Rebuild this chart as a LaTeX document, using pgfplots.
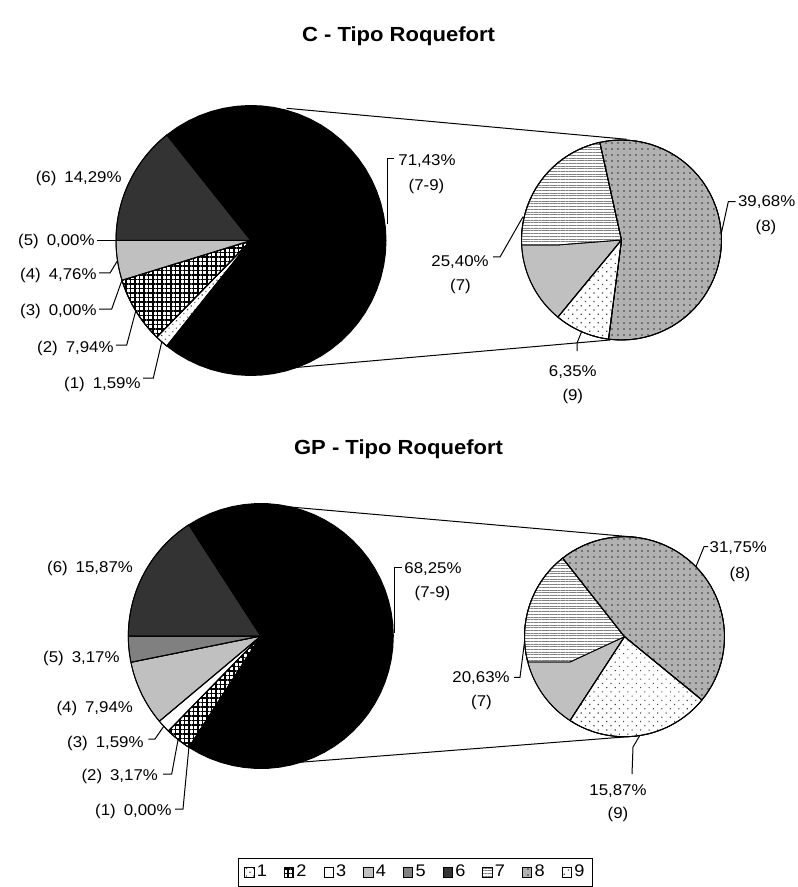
\documentclass[border=0pt]{standalone}
\usepackage{pgfplots}
\pgfplotsset{compat=1.18}
\usepackage{pgfplotstable}
\usetikzlibrary{patterns.meta}
\usepackage{fontspec}
\setmainfont{Liberation Sans}[FakeStretch=1.08]

\newcommand\lab{\fontsize{7.8}{9}\selectfont}
\newcommand\leg{\fontsize{8.4}{9.5}\selectfont}
\newcommand\ttl{\fontsize{10.2}{12}\selectfont\bfseries}

\definecolor{g4}{HTML}{C0C0C0}
\definecolor{g5}{HTML}{808080}
\definecolor{g6}{HTML}{333333}
\definecolor{dotc}{HTML}{404040}

% share of each cheese class (%), C sample
\pgfplotstableread{
id pct
1 1.59
2 7.94
3 0.00
4 4.76
5 0.00
6 14.29
}\mainC
\pgfplotstableread{
id pct
7 25.40
8 39.68
9 6.35
}\secC
% GP sample
\pgfplotstableread{
id pct
1 0.00
2 3.17
3 1.59
4 7.94
5 3.17
6 15.87
}\mainG
\pgfplotstableread{
id pct
7 20.63
8 31.75
9 15.87
}\secG

\tikzset{
  s1/.style={fill=white, postaction={pattern={Dots[distance=2.6pt, angle=45, radius=0.4pt]}, pattern color=dotc}},
  s2/.style={fill=white,
    postaction={pattern={Lines[angle=0, distance=2.25pt, line width=0.6pt]}, pattern color=black},
    postaction={pattern={Lines[angle=90, distance=2.25pt, line width=0.6pt]}, pattern color=black}},
  s3/.style={fill=white},
  s4/.style={fill=g4},
  s5/.style={fill=g5},
  s6/.style={fill=g6},
  s7/.style={fill=white, postaction={pattern={Lines[angle=0, distance=1.35pt, line width=0.45pt]}, pattern color=g5}},
  s8/.style={fill=g4!92!black, postaction={pattern={Dots[distance=3pt, radius=0.45pt]}, pattern color=black!80}},
  s9/.style={fill=white, postaction={pattern={Dots[distance=3pt, angle=45, radius=0.4pt]}, pattern color=dotc}},
  sO/.style={fill=black},
  lab/.style={font=\lab, inner sep=0pt},
  ttl/.style={font=\ttl, inner sep=0pt},
}

% one wedge: #1 style, #2 cx, #3 cy, #4 radius, #5 from angle, #6 to angle, #7 lowest y kept
\newcommand\pieslice[7]{%
  \edef\tmp{\noexpand\addplot[#1, forget plot, no markers, line join=round,
      domain=-1:49, samples=51, variable=\noexpand\t]
    ({((\noexpand\t<0) || (\noexpand\t>48)) ? #2 : #2+#4*cos(#5+(#6-#5)*\noexpand\t/48)},
     {min(#7, (((\noexpand\t<0) || (\noexpand\t>48)) ? #3 : #3-#4*sin(#5+(#6-#5)*\noexpand\t/48)))});}%
  \tmp}

% a whole pie, clockwise from the start angle
% #1 table, #2 last row, #3 cx, #4 cy, #5 radius, #6 start angle, #7 degrees per percent, #8 end of line band
\newcommand\drawpie[8]{%
  \pgfmathsetmacro\curang{#6}%
  \pgfplotsforeachungrouped \k in {0,...,#2}{%
    \pgfplotstablegetelem{\k}{id}\of#1\edef\sid{\pgfplotsretval}%
    \pgfplotstablegetelem{\k}{pct}\of#1\edef\spct{\pgfplotsretval}%
    \pgfmathsetmacro\nextang{\curang-#7*\spct}%
    \ifnum\sid=7
      \pieslice{fill=g4}{#3}{#4}{#5}{\curang}{\nextang}{9999}%
      \pieslice{s7}{#3}{#4}{#5}{\curang}{\nextang}{#8}%
    \else
      \pieslice{s\sid}{#3}{#4}{#5}{\curang}{\nextang}{9999}%
    \fi
    \pieslice{draw=black, line width=0.5pt}{#3}{#4}{#5}{\curang}{\nextang}{9999}%
    \let\curang\nextang
  }%
}

\newcommand\tablesum[3]{%
  \def#3{0}%
  \pgfplotsforeachungrouped \k in {0,...,#2}{%
    \pgfplotstablegetelem{\k}{pct}\of#1%
    \pgfmathsetmacro#3{#3+\pgfplotsretval}}}

\pgfplotsset{
  leader/.style={black, line width=0.5pt, forget plot, no markers},
}

\begin{document}
\begin{tikzpicture}
\tablesum{\secC}{2}{\otherC}
\tablesum{\secG}{2}{\otherG}
\pgfmathsetmacro\startC{180+(100-\otherC)*1.8}
\pgfmathsetmacro\startG{180+(100-\otherG)*1.8}
\pgfmathsetmacro\unitC{360/\otherC}
\pgfmathsetmacro\unitG{360/\otherG}
\begin{axis}[
  scale only axis, width=398.5pt, height=443.5pt,
  xmin=0, xmax=797, ymin=0, ymax=887, y dir=reverse,
  hide axis, clip=false,
  legend columns=9,
  legend image code/.code={\draw[#1, draw=black, line width=0.4pt] (0pt,-2.35pt) rectangle (4.7pt,2.35pt);},
  legend style={at={(axis cs:415.5,872.5)}, anchor=center, draw=black, line width=0.5pt,
    font=\leg, inner xsep=3pt, inner ysep=2pt, nodes={inner sep=1.2pt},
    /tikz/every even column/.append style={column sep=7.3pt}},
]
% ---------- C - Tipo Roquefort ----------
\addplot[leader] coordinates {(286.7,108.3) (626.7,139.3)};
\addplot[leader] coordinates {(286.7,368.3) (610,340)};
\drawpie{\mainC}{5}{251}{240.5}{135}{\startC}{3.6}{9999}
\pieslice{sO, draw=black, line width=0.5pt}{251}{240.5}{135}{\curang}{\curang-3.6*\otherC}{9999}
\drawpie{\secC}{2}{621.5}{240}{100}{230.5}{\unitC}{245}

\node[ttl, anchor=base] at (axis cs:398.5,42) {C - Tipo Roquefort};

\node[lab, anchor=base east] at (axis cs:122,183) {(6)\hspace{4pt}14,29\%};
\node[lab, anchor=base east] at (axis cs:95,246) {(5)\hspace{4pt}0,00\%};
\node[lab, anchor=base east] at (axis cs:97,279) {(4)\hspace{4pt}4,76\%};
\node[lab, anchor=base east] at (axis cs:97,315.5) {(3)\hspace{4pt}0,00\%};
\node[lab, anchor=base east] at (axis cs:114,352) {(2)\hspace{4pt}7,94\%};
\node[lab, anchor=base east] at (axis cs:141,388) {(1)\hspace{4pt}1,59\%};
\addplot[leader] coordinates {(97,240.5) (117,240.5)};
\addplot[leader] coordinates {(99,273) (110,273) (117.5,260.7)};
\addplot[leader] coordinates {(99,309) (111.7,309) (122,280.2)};
\addplot[leader] coordinates {(116,345) (126.7,345) (135.8,310.8)};
\addplot[leader] coordinates {(143,378) (153.3,378) (161.8,341.8)};

\node[lab, anchor=base west] at (axis cs:398,165.5) {71,43\%};
\node[lab, anchor=base] at (axis cs:426.5,190.5) {(7-9)};
\addplot[leader] coordinates {(387.5,224) (387.5,158.5) (394,158.5)};

\node[lab, anchor=base west] at (axis cs:737.7,207) {39,68\%};
\node[lab, anchor=base] at (axis cs:766,231.5) {(8)};
\addplot[leader] coordinates {(721.6,232) (728.3,201.7) (735.5,201.7)};
\node[lab, anchor=base east] at (axis cs:489,267) {25,40\%};
\node[lab, anchor=base] at (axis cs:460.5,290.5) {(7)};
\addplot[leader] coordinates {(493,257) (500,257) (523,216.7)};
\node[lab, anchor=base] at (axis cs:572.8,376.4) {6,35\%};
\node[lab, anchor=base] at (axis cs:572.8,400.4) {(9)};
\addplot[leader] coordinates {(577,351) (577,343) (581.6,331.7)};

% ---------- GP - Tipo Roquefort ----------
\addplot[leader] coordinates {(286.7,506.7) (636.7,537.3)};
\addplot[leader] coordinates {(286.7,763.3) (636.7,736)};
\drawpie{\mainG}{5}{260.8}{636}{132.5}{\startG}{3.6}{9999}
\pieslice{sO, draw=black, line width=0.5pt}{260.8}{636}{132.5}{\curang}{\curang-3.6*\otherG}{9999}
\drawpie{\secG}{2}{624.5}{636.7}{100}{237}{\unitG}{662}

\node[ttl, anchor=base] at (axis cs:398.5,454) {GP - Tipo Roquefort};

\node[lab, anchor=base east] at (axis cs:133.3,572) {(6)\hspace{4pt}15,87\%};
\node[lab, anchor=base east] at (axis cs:120,662) {(5)\hspace{4pt}3,17\%};
\node[lab, anchor=base east] at (axis cs:133.3,712) {(4)\hspace{4pt}7,94\%};
\node[lab, anchor=base east] at (axis cs:144,747) {(3)\hspace{4pt}1,59\%};
\node[lab, anchor=base east] at (axis cs:158.3,780.4) {(2)\hspace{4pt}3,17\%};
\node[lab, anchor=base east] at (axis cs:172,815) {(1)\hspace{4pt}0,00\%};
\addplot[leader] coordinates {(148.3,739) (155,739) (163.8,726.2)};
\addplot[leader] coordinates {(163,774) (171.7,774) (178.1,739.5)};
\addplot[leader] coordinates {(175,809) (183,809) (188.9,747.3)};

\node[lab, anchor=base west] at (axis cs:404,573.4) {68,25\%};
\node[lab, anchor=base] at (axis cs:432.5,597.4) {(7-9)};
\addplot[leader] coordinates {(394,633) (394,567.3) (401.7,567.3)};

\node[lab, anchor=base west] at (axis cs:709.3,552) {31,75\%};
\node[lab, anchor=base] at (axis cs:740,578.7) {(8)};
\addplot[leader] coordinates {(695.9,566.7) (704,546.7) (708,546.7)};
\node[lab, anchor=base east] at (axis cs:510,682.7) {20,63\%};
\node[lab, anchor=base] at (axis cs:481.5,706) {(7)};
\addplot[leader] coordinates {(514,677.3) (520,677.3) (524.6,641.2)};
\node[lab, anchor=base] at (axis cs:618,795) {15,87\%};
\node[lab, anchor=base] at (axis cs:618,818.5) {(9)};
\addplot[leader] coordinates {(639.8,735.5) (633,747) (632,774)};

% ---------- legend ----------
\addlegendimage{s1}\addlegendentry{1}
\addlegendimage{s2}\addlegendentry{2}
\addlegendimage{s3}\addlegendentry{3}
\addlegendimage{s4}\addlegendentry{4}
\addlegendimage{s5}\addlegendentry{5}
\addlegendimage{s6}\addlegendentry{6}
\addlegendimage{s7}\addlegendentry{7}
\addlegendimage{s8}\addlegendentry{8}
\addlegendimage{s9}\addlegendentry{9}
\end{axis}
\pgfresetboundingbox
\path[use as bounding box] (0,0) rectangle (398.5pt,443.5pt);
\end{tikzpicture}
\end{document}
